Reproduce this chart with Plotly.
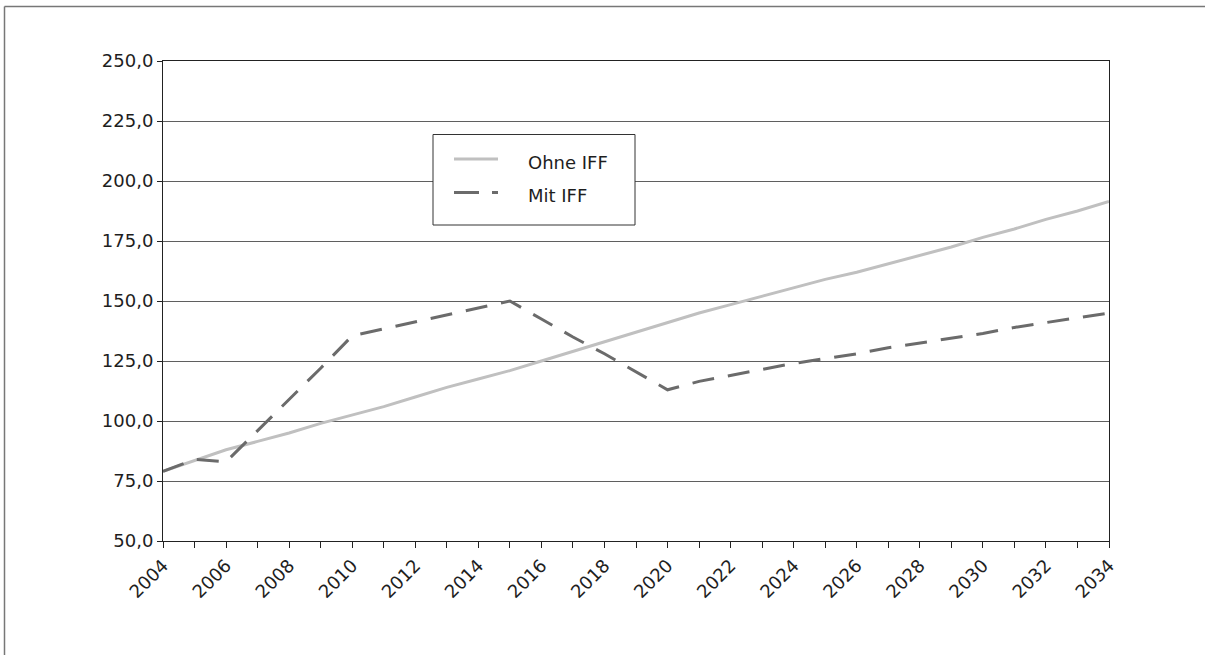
import plotly.graph_objects as go

years = list(range(2004, 2035))
ohne_iff = [79, 83.5, 88, 91.5, 95, 99, 102.5, 106, 110, 114, 117.5, 121, 125, 129, 133,
            137, 141, 145, 148.5, 152, 155.5, 159, 162, 165.5, 169, 172.5, 176.5, 180,
            184, 187.5, 191.5]
mit_iff = [79, 84, 83, 96, 109, 122, 135.5, 138.4, 141.3, 144.2, 147.1, 150, 142.5, 135,
           128, 120.5, 113, 116.5, 119, 121.5, 124, 126, 128, 130.5, 132.5, 134.5, 136.5,
           139, 141, 143, 145]
series_names = ["Ohne IFF", "Mit IFF"]
series_colors = ["#c0c0c0", "#6b6b6b"]
series_dash = ["solid", "22px,14px"]
y_ticks = [50, 75, 100, 125, 150, 175, 200, 225, 250]
y_ticktext = ["50,0", "75,0", "100,0", "125,0", "150,0", "175,0", "200,0", "225,0", "250,0"]
x_ticks = list(range(2004, 2035, 2))

FONT = "DejaVu Sans, Verdana, sans-serif"

fig = go.Figure()
for name, vals, col, dash in zip(series_names, [ohne_iff, mit_iff], series_colors, series_dash):
    fig.add_trace(go.Scatter(x=years, y=vals, mode="lines", name=name, showlegend=False,
                             hoverinfo="skip",
                             line=dict(color=col, width=3, dash=dash)))

L, R, T, B = 163, 1109, 61, 541
W, H = 1205, 655
pw, ph = R - L, B - T


def px(x):
    return (x - L) / pw


def py(y):
    return 1 - (y - T) / ph


fig.update_layout(
    width=W, height=H,
    margin=dict(l=L, r=W - R, t=T, b=H - B, pad=0),
    paper_bgcolor="white", plot_bgcolor="white",
    font=dict(family=FONT, size=18, color="#1e1e1e"),
    showlegend=False,
    xaxis=dict(range=[2004, 2034], tickmode="array", tickvals=x_ticks,
               ticktext=[str(v) for v in x_ticks], tickangle=-45,
               showgrid=False, zeroline=False, showline=True, linecolor="#222222",
               linewidth=1, mirror=True, ticks="outside", ticklen=6, tickcolor="#222222",
               minor=dict(dtick=1, ticks="outside", ticklen=6, tickcolor="#222222"),
               tickfont=dict(size=18)),
    yaxis=dict(range=[50, 250], tickmode="array", tickvals=y_ticks, ticktext=y_ticktext,
               showgrid=True, gridcolor="#5f5f5f", gridwidth=1, zeroline=False,
               showline=True, linecolor="#222222", linewidth=1, mirror=True,
               ticks="outside", ticklen=5, tickcolor="#222222", tickfont=dict(size=18)),
)

# outer chart frame (top and left edges visible)
frame = dict(color="#777777", width=1.5)
fig.add_shape(type="line", xref="paper", yref="paper",
              x0=px(4.5), x1=px(1205), y0=py(6.5), y1=py(6.5), line=frame, layer="below")
fig.add_shape(type="line", xref="paper", yref="paper",
              x0=px(4.5), x1=px(4.5), y0=py(6.5), y1=py(655), line=frame, layer="below")

# legend box
fig.add_shape(type="rect", xref="paper", yref="paper",
              x0=px(433), x1=px(635), y0=py(225), y1=py(134.5),
              line=dict(color="#333333", width=1), fillcolor="white", layer="above")
legend_rows = [159, 192.5]
for name, col, dash, ly in zip(series_names, series_colors, series_dash, legend_rows):
    fig.add_shape(type="line", xref="paper", yref="paper",
                  x0=px(454), x1=px(498), y0=py(ly), y1=py(ly),
                  line=dict(color=col, width=3, dash=dash if dash == "solid" else "25px,13px"),
                  layer="above")
    fig.add_annotation(xref="paper", yref="paper", x=px(526), y=py(ly + 3),
                       xanchor="left", yanchor="middle", text=name, showarrow=False,
                       font=dict(family=FONT, size=18, color="#1e1e1e"))

fig.write_html("out.html", config={"displayModeBar": False},
               post_script="document.body.style.margin='0';document.body.style.overflow='hidden';")
